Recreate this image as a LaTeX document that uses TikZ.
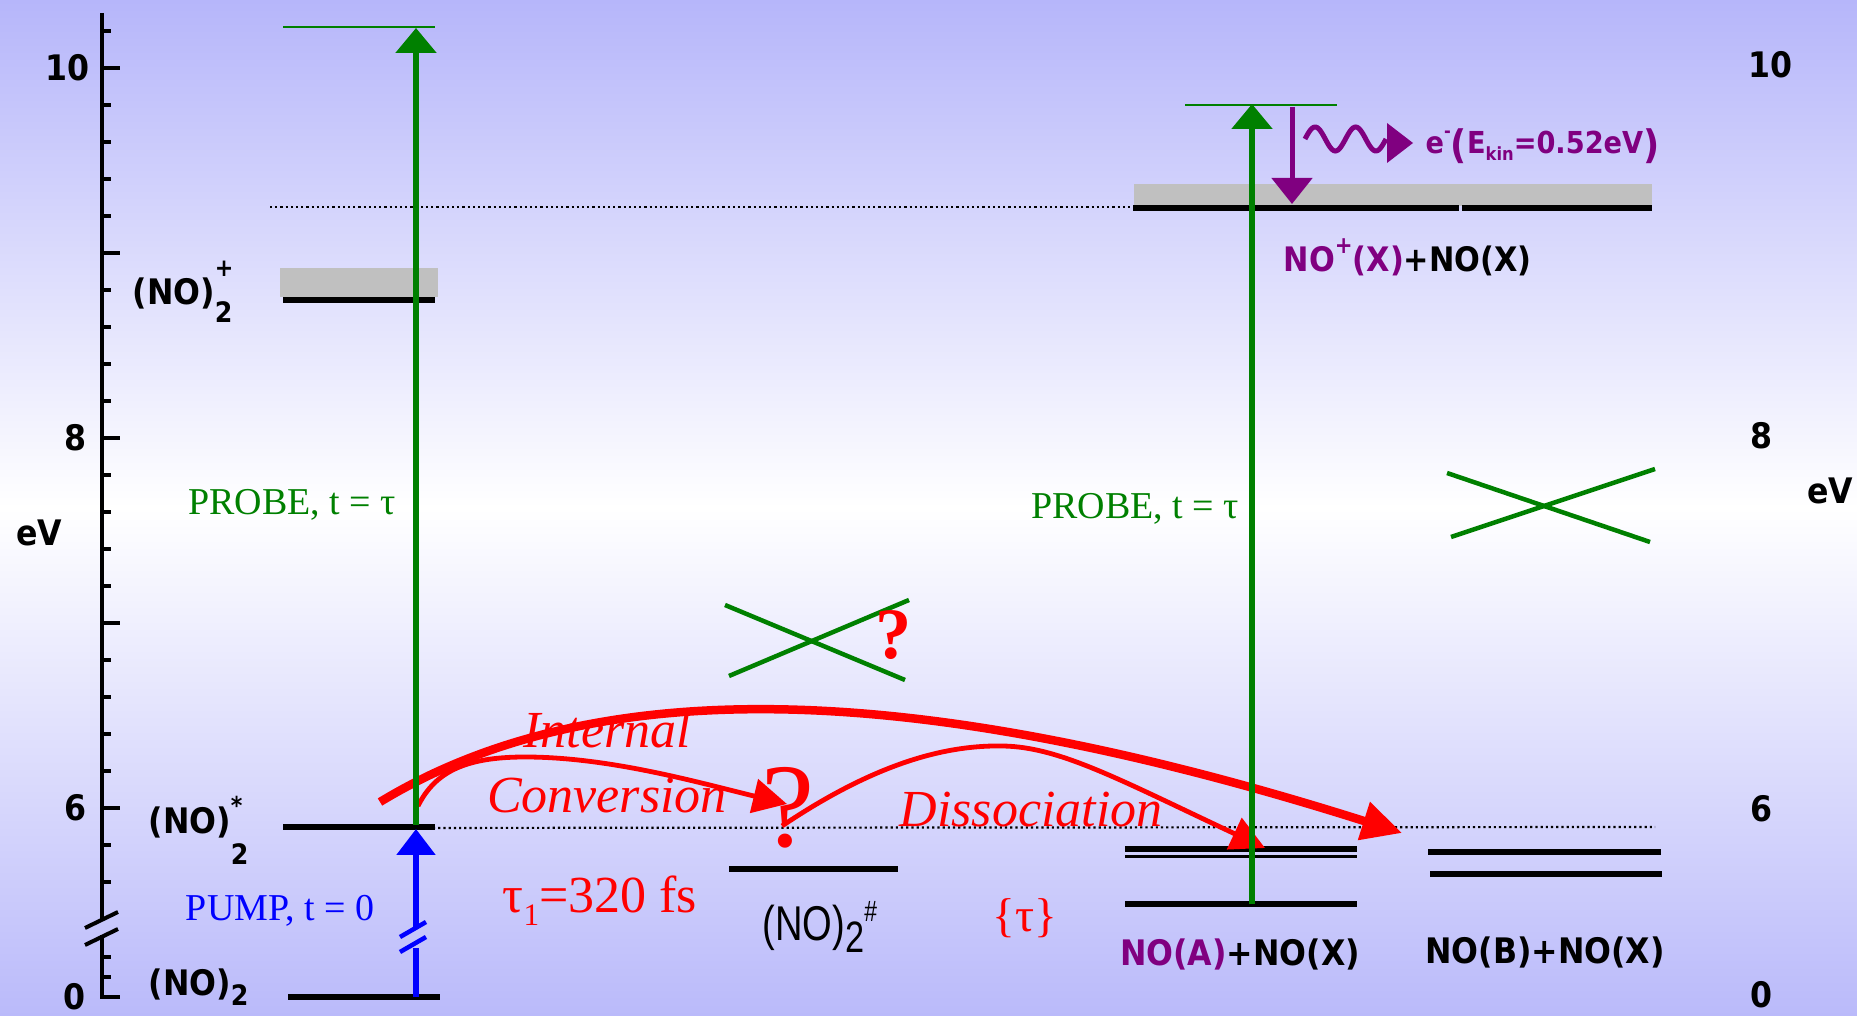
\documentclass[tikz,border=0pt]{standalone}
\usepackage{fontspec}
\setmainfont{Liberation Serif}
\setsansfont{DejaVu Sans}
\newfontfamily\heavysf[FakeStretch=0.9]{DejaVu Sans}
\newfontfamily\narrowsf{Liberation Sans}
\usetikzlibrary{arrows.meta,positioning}
\definecolor{bgtop}{RGB}{182,182,250}
\definecolor{bgbot}{RGB}{186,186,250}
\definecolor{probegreen}{RGB}{0,128,0}
\definecolor{ionpurple}{RGB}{128,0,128}
\definecolor{bandgray}{RGB}{192,192,192}
\newcommand{\dimer}[3]{(NO)\rlap{\raisebox{#3}{\scalebox{0.7}{#2}}}\raisebox{#1}{\scalebox{0.8}{2}}}

\begin{document}
\begin{tikzpicture}[x=0.1mm, y=-0.1mm,
  lvl/.style={line width=0.6mm},
  axisline/.style={line width=0.4mm},
  dotline/.style={line width=0.22mm, dash pattern=on 0.22mm off 0.3mm},
  xcross/.style={probegreen, line width=0.45mm},
  probe/.style={probegreen, line width=0.55mm, -{Triangle[length=2.5mm, width=4mm]}},
  pump/.style={blue, line width=0.55mm},
  redthick/.style={red, line width=0.85mm, -{Triangle[length=4mm, width=3.8mm]}},
  redthin/.style={red, line width=0.48mm, -{Triangle[length=3.4mm, width=3.4mm]}},
  boldlbl/.style={font=\heavysf\bfseries\fontsize{10}{12}\selectfont, inner sep=0pt},
  serif/.style={font=\fontsize{10.8}{13}\selectfont, inner sep=0pt},
  redreg/.style={red, font=\fontsize{14.8}{17}\selectfont, inner sep=0pt},
  redital/.style={red, font=\itshape\fontsize{14.8}{17}\selectfont, inner sep=0pt}]

% background
\useasboundingbox (0,0) rectangle (1857,1016);
\clip (0,0) rectangle (1857,1016);
\shade[top color=bgtop, bottom color=bgbot, middle color=white] (0,0) rectangle (1857,1016);

% energy axis
\draw[axisline] (102,13) -- (102,919);
\draw[axisline] (102,935) -- (102,997) -- (120,997);
\foreach \e in {6,...,10}
  \draw[axisline] (102,{68+(10-\e)*185}) -- ++(18,0);
\foreach \k in {-1,1,2,3,4,6,7,8,9,11,12,13,14,16,17,18,19,21,22}
  \draw[axisline] (102,{68+\k*37}) -- ++(9,0);
\foreach \y in {957,977}
  \draw[axisline] (102,\y) -- ++(9,0);
\draw[axisline] (85,928) -- (118,912);
\draw[axisline] (85,945) -- (118,929);

\node[boldlbl, anchor=east] (lTen) at (90,68) {10};
\node[boldlbl, anchor=east] (lEight) at (87,438) {8};
\node[boldlbl, anchor=east] (lSix) at (87,808) {6};
\node[boldlbl, anchor=east] (lZero) at (86,997) {0};
\node[boldlbl] (lUnit) at (39,533) {eV};
\node[boldlbl, anchor=west] (rTen) at (1748,65) {10};
\node[boldlbl, anchor=west] (rEight) at (1750,436) {8};
\node[boldlbl, anchor=west] (rSix) at (1750,809) {6};
\node[boldlbl, anchor=west] (rZero) at (1750,995) {0};
\node[boldlbl] (rUnit) at (1830,491) {eV};

% levels, dimer side
\fill[bandgray] (280,268) rectangle (438,297);
\draw[lvl] (283,300) -- (435,300);
\draw[probegreen, line width=0.15mm] (283,27) -- (435,27);
\draw[lvl] (283,827) -- (435,827);
\draw[lvl] (288,997) -- (440,997);
\draw[dotline] (270,207) -- (1131,207);
\draw[dotline] (355,828) -- (1655,827);
\draw[lvl] (729,869) -- (898,869);

% levels, fragment side
\fill[bandgray] (1134,184) rectangle (1652,206);
\draw[lvl] (1133,208) -- (1459,208);
\draw[lvl] (1462,208) -- (1652,208);
\draw[probegreen, line width=0.15mm] (1185,105) -- (1337,105);
\draw[lvl] (1125,849) -- (1357,849);
\draw[line width=0.3mm] (1125,857) -- (1357,857);
\draw[lvl] (1125,904) -- (1357,904);
\draw[lvl] (1428,852) -- (1661,852);
\draw[lvl] (1430,874) -- (1662,874);

% crossings
\draw[xcross] (725,605) -- (905,680);
\draw[xcross] (729,676) -- (909,600);
\draw[xcross] (1447,473) -- (1650,542);
\draw[xcross] (1451,537) -- (1655,469);

% state labels
\node[boldlbl, anchor=base west] (ionDimer) at (132,305) {\dimer{-0.9ex}{+}{1.5ex}};
\node[boldlbl, anchor=base west] (excDimer) at (148,834) {\dimer{-1.6ex}{*}{1ex}};
\node[boldlbl, anchor=base west] (gndDimer) at (148,995) {\dimer{-0.55ex}{}{0pt}};
\node[inner sep=0pt, anchor=base west, font=\narrowsf\fontsize{13.9}{15}\selectfont] (hotDimer) at (762,940)
  {\scalebox{0.78}[1]{(NO)\raisebox{-0.25em}{\scalebox{0.9}{2}}\raisebox{0.37em}{\scalebox{0.6}{\#}}}};
\node[boldlbl, anchor=base west, font=\heavysf\bfseries\fontsize{9.6}{12}\selectfont] (ionPair) at (1283,272)
  {\textcolor{ionpurple}{NO\raisebox{1ex}{\scalebox{0.7}{+}}(X)}+NO(X)};
\node[boldlbl, anchor=base] (aPair) at (1240,965) {\textcolor{ionpurple}{NO(A)}+NO(X)};
\node[boldlbl, anchor=base] (bPair) at (1545,963) {NO(B)+NO(X)};
\node[boldlbl, ionpurple, anchor=base west, font=\heavysf\bfseries\fontsize{8.6}{10}\selectfont] (eKin) at (1425,154)
  {e\raisebox{1ex}{\scalebox{0.6}{-}}\raisebox{-0.3ex}{\scalebox{1.3}{(}}E\raisebox{-0.4ex}{\scalebox{0.6}{kin}}=0.52eV\raisebox{-0.3ex}{\scalebox{1.3}{)}}};

% red processes
\coordinate (icStart) at (380,802);
\coordinate (fastEnd) at (1402,833);
\coordinate (icFrom) at (418,806);
\coordinate (icTo) at (787,804);
\coordinate (dsFrom) at (782,826);
\coordinate (dsTo) at (1265,848);
\draw[redthick] (icStart) .. controls (610,662) and (950,690) .. (fastEnd);
\draw[redthin] (icFrom) .. controls (435,772) and (465,757) .. (525,757)
  .. controls (610,757) and (700,783) .. (icTo);
\draw[redthin] (dsFrom) .. controls (880,760) and (950,745) .. (1003,746)
  .. controls (1060,747) and (1120,780) .. (dsTo);

\node[redital, anchor=base] (icOne) at (607,748) {Internal};
\node[redital, anchor=base] (icTwo) at (607,812) {Conversion};
\node[redital, anchor=base] (dsText) at (1031,827) {Dissociation};
\node[redreg, anchor=base] (tauOne) at (600,912) {τ\raisebox{-0.25em}{\scalebox{0.6}{1}}=320 fs};
\node[red, inner sep=0pt, anchor=base, font=\fontsize{13.5}{15}\selectfont] (tauSet) at (1025,932) {\{τ\}};
\node[red, inner sep=0pt, font=\fontsize{34}{36}\selectfont] (bigQ) at (788,808) {?};
\node[red, inner sep=0pt, font=\bfseries\fontsize{20.6}{22}\selectfont] (smallQ) at (894,635) {?};

% pump and probe
\coordinate (gnd) at (416,997);
\coordinate (pumpBrkA) at (416,948);
\coordinate (pumpBrkB) at (416,928);
\coordinate (pumpTip) at (416,829);
\draw[pump] (gnd) -- (pumpBrkA);
\draw[pump, -{Triangle[length=2.6mm, width=3.8mm]}] (pumpBrkB) -- (pumpTip);
\draw[blue, line width=0.45mm] (400,937) -- (426,922);
\draw[blue, line width=0.45mm] (400,952) -- (426,937);

\coordinate (probeLFrom) at (416,825);
\coordinate (probeLTo) at (416,28);
\coordinate (probeRFrom) at (1252,904);
\coordinate (probeRTo) at (1252,104);
\draw[probe] (probeLFrom) -- (probeLTo);
\draw[probe] (probeRFrom) -- (probeRTo);

\node[serif, probegreen, anchor=base] (probeL) at (292,515) {PROBE, t = τ};
\node[serif, probegreen, anchor=base] (probeR) at (1135,519) {PROBE, t = τ};
\node[serif, blue, anchor=base] (pumpLbl) at (280,920) {PUMP, t = 0};

% photoelectron
\coordinate (ionTop) at (1292,107);
\coordinate (ionBand) at (1292,204);
\draw[ionpurple, line width=0.5mm, -{Triangle[length=2.6mm, width=4mm]}] (ionTop) -- (ionBand);
\draw[ionpurple, line width=0.5mm] plot[domain=0:720, samples=60, smooth] ({1305+\x/720*81}, {139-12*sin(\x)});
\fill[ionpurple] (1387,123) -- (1413,143) -- (1387,163) -- cycle;

\end{tikzpicture}
\end{document}
